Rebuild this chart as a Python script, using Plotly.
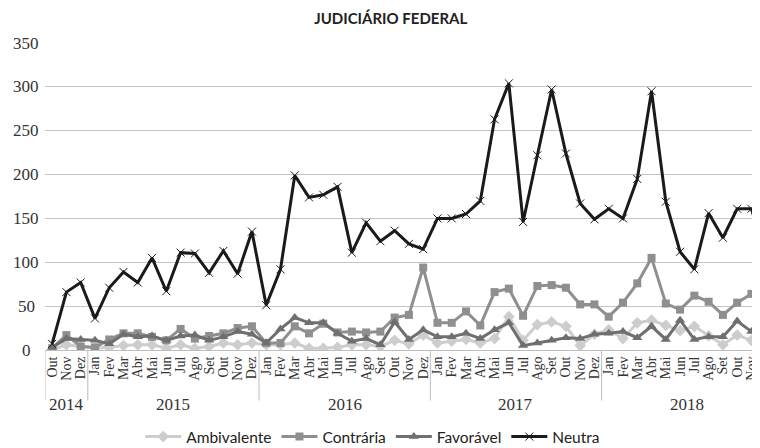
import plotly.graph_objects as go

month_names = ["Jan", "Fev", "Mar", "Abr", "Mai", "Jun", "Jul", "Ago", "Set", "Out", "Nov", "Dez"]
years = ["2014", "2015", "2016", "2017", "2018"]
months_2014 = ["Out", "Nov", "Dez"]

ambivalente = [0, 6, 4,
               2, 3, 5, 6, 6, 2, 6, 2, 4, 8, 6, 8,
               6, 6, 8, 2, 2, 3, 6, 6, 4, 11, 7, 17,
               8, 10, 12, 8, 13, 38, 11, 29, 32, 27, 5, 18,
               23, 13, 31, 34, 28, 22, 27, 16, 6, 17, 11, 22]
contraria = [2, 17, 4,
             3, 12, 19, 19, 15, 11, 24, 13, 16, 19, 25, 27,
             8, 8, 27, 19, 30, 20, 21, 20, 21, 37, 40, 94,
             31, 31, 44, 28, 66, 70, 39, 73, 74, 71, 52, 52,
             38, 54, 76, 105, 53, 46, 62, 55, 40, 54, 64, 60]
favoravel = [3, 13, 12,
             11, 7, 18, 15, 16, 11, 16, 17, 11, 15, 21, 18,
             8, 24, 37, 31, 31, 19, 10, 13, 6, 32, 12, 23,
             15, 15, 19, 13, 23, 31, 5, 8, 11, 14, 13, 18,
             19, 21, 14, 27, 12, 34, 12, 15, 15, 33, 21, 11]
neutra = [7, 66, 77,
          36, 71, 89, 77, 105, 67, 111, 110, 88, 113, 87, 135,
          51, 92, 199, 174, 177, 186, 111, 145, 124, 136, 121, 115,
          150, 150, 155, 170, 263, 304, 146, 222, 297, 224, 167, 149,
          161, 150, 195, 295, 169, 112, 92, 156, 128, 161, 161, 108]
y_ticks = [0, 50, 100, 150, 200, 250, 300, 350]

# build category labels
periods = []
tick_text = []
year_of = []
for m in months_2014:
    periods.append(f"{m} 2014")
    tick_text.append(m)
    year_of.append("2014")
for yr in years[1:]:
    for m in month_names:
        periods.append(f"{m} {yr}")
        tick_text.append(m)
        year_of.append(yr)

fig = go.Figure()
series = [
    ("Ambivalente", ambivalente, "#cdcdcd", "diamond", 9),
    ("Contrária", contraria, "#8f8f8f", "square", 8),
    ("Favorável", favoravel, "#6f6f6f", "triangle-up", 9),
]
for name, vals, col, sym, sz in series:
    fig.add_trace(go.Scatter(
        x=periods, y=vals, name=name, mode="lines+markers",
        line=dict(color=col, width=3),
        marker=dict(symbol=sym, size=sz, color=col),
    ))
fig.add_trace(go.Scatter(
    x=periods, y=neutra, name="Neutra", mode="lines+markers",
    line=dict(color="#1a1a1a", width=3),
    marker=dict(symbol="x-thin", size=8, color="#1a1a1a",
                line=dict(color="#1a1a1a", width=1)),
))

# year dividers and labels (positioned by category index on the x axis)
year_starts = [i for i in range(len(periods)) if i == 0 or year_of[i] != year_of[i - 1]]
shapes = []
annotations = []
for k, s in enumerate(year_starts):
    shapes.append(dict(type="line", xref="x", yref="paper", x0=s - 0.5, x1=s - 0.5,
                       y0=0, y1=-0.165, line=dict(color="#bdbdbd", width=1)))
    e = year_starts[k + 1] - 1 if k + 1 < len(year_starts) else len(periods) - 1
    annotations.append(dict(text=year_of[s], xref="x", yref="paper", x=(s + e) / 2, y=0,
                            yshift=-54, showarrow=False, xanchor="center", yanchor="middle",
                            font=dict(family="Liberation Serif", size=17, color="#333")))
for t in y_ticks:
    annotations.append(dict(text=str(t), xref="paper", yref="y", x=0, y=t, xshift=-19,
                            showarrow=False, xanchor="center", yanchor="middle",
                            font=dict(family="Liberation Serif", size=17, color="#333")))

fig.update_layout(
    width=752, height=440,
    margin=dict(l=37, r=0, t=35, b=98, autoexpand=False),
    paper_bgcolor="white", plot_bgcolor="white",
    title=dict(text="<b>JUDICIÁRIO FEDERAL</b>", x=0.509, xref="container", xanchor="center",
               y=0.975, yref="container", yanchor="middle",
               font=dict(family="Lato", size=15, color="#222")),
    showlegend=True,
    legend=dict(orientation="h", x=0.485, xref="container", xanchor="center",
                y=0.025, yref="container", yanchor="middle",
                font=dict(family="Lato", size=15.5, color="#222"), itemwidth=36,
                tracegroupgap=0),
    shapes=shapes,
    annotations=annotations,
)
fig.update_xaxes(type="category", categoryorder="array", categoryarray=periods,
                 tickmode="array", tickvals=periods, ticktext=tick_text,
                 tickangle=-90, range=[-0.5, 49.6], automargin=False,
                 tickfont=dict(family="Liberation Serif", size=14, color="#333"),
                 showgrid=False, showline=True, linecolor="#bdbdbd", linewidth=1,
                 ticks="", zeroline=False)
fig.update_yaxes(range=[0, 350], tickvals=y_ticks, showticklabels=False, automargin=False,
                 showgrid=True, gridcolor="#c4c4c4", gridwidth=1.3,
                 zeroline=False, showline=False)

fig.write_html("out.html")
